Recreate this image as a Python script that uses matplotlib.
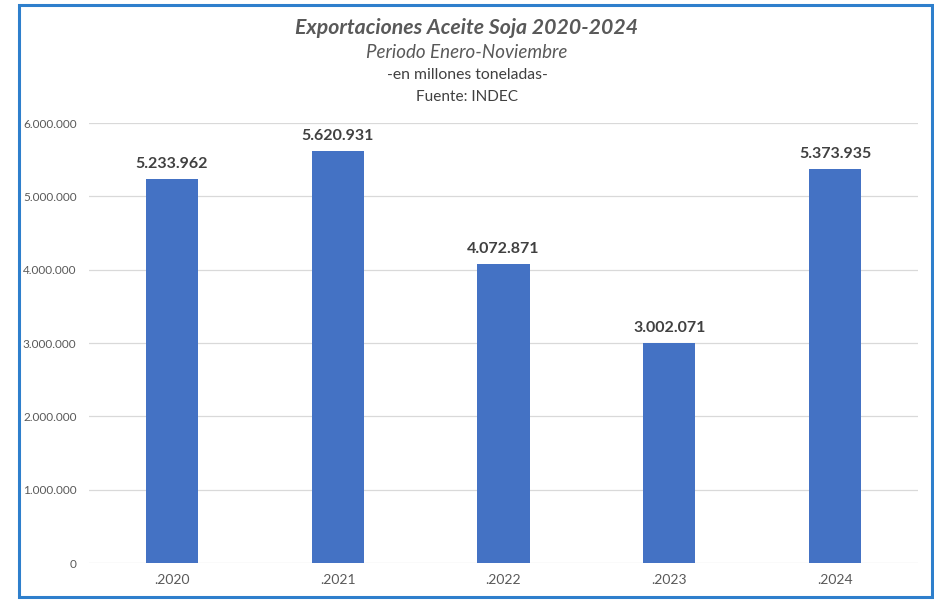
import matplotlib.pyplot as plt
from matplotlib.patches import Rectangle
from matplotlib.ticker import FuncFormatter

years = ['.2020', '.2021', '.2022', '.2023', '.2024']
toneladas = [5233962, 5620931, 4072871, 3002071, 5373935]
yticks = [0, 1000000, 2000000, 3000000, 4000000, 5000000, 6000000]


def miles(v, pos=None):
    return '{:,.0f}'.format(v).replace(',', '.')


plt.rcParams['font.family'] = ['Lato', 'DejaVu Sans']

fig = plt.figure(figsize=(9.34, 6.0), dpi=100)
ax = fig.add_axes([89 / 934, 37 / 600, 829 / 934, 440 / 600])

x = range(len(years))
bars = ax.bar(x, toneladas, width=0.314, color='#4472C4', zorder=3)
for b, v in zip(bars, toneladas):
    ax.text(b.get_x() + b.get_width() / 2, v + 110000, miles(v),
            ha='center', va='bottom', fontsize=11.5, fontweight='bold', color='#404040')

ax.set_xlim(-0.5, len(years) - 0.5)
ax.set_ylim(0, 6000000)
ax.set_yticks(yticks)
ax.yaxis.set_major_formatter(FuncFormatter(miles))
ax.set_xticks(list(x))
ax.set_xticklabels(years)
ax.tick_params(axis='y', length=0, pad=9, labelsize=8.5, labelcolor='#595959')
ax.tick_params(axis='x', length=0, pad=8, labelsize=10, labelcolor='#595959')
ax.grid(axis='y', color='#d9d9d9', linewidth=0.9, zorder=0)
for s in ax.spines.values():
    s.set_visible(False)

fig.text(0.5, 1 - 28 / 600, 'Exportaciones Aceite Soja 2020-2024', ha='center', va='center',
         fontsize=15.3, fontweight='bold', style='italic', color='#595959')
fig.text(0.5, 1 - 53 / 600, 'Periodo Enero-Noviembre', ha='center', va='center',
         fontsize=13.5, style='italic', color='#595959')
fig.text(0.5, 1 - 75 / 600, '-en millones toneladas-', ha='center', va='center',
         fontsize=11.3, color='#404040')
fig.text(0.5, 1 - 97 / 600, 'Fuente: INDEC', ha='center', va='center',
         fontsize=11.1, color='#404040')

fig.patches.append(Rectangle((19 / 934, 3 / 600), 913 / 934, 592 / 600, transform=fig.transFigure,
                             fill=False, edgecolor='#2E7FCC', linewidth=2.2))

fig.savefig('out.png', dpi=100)
